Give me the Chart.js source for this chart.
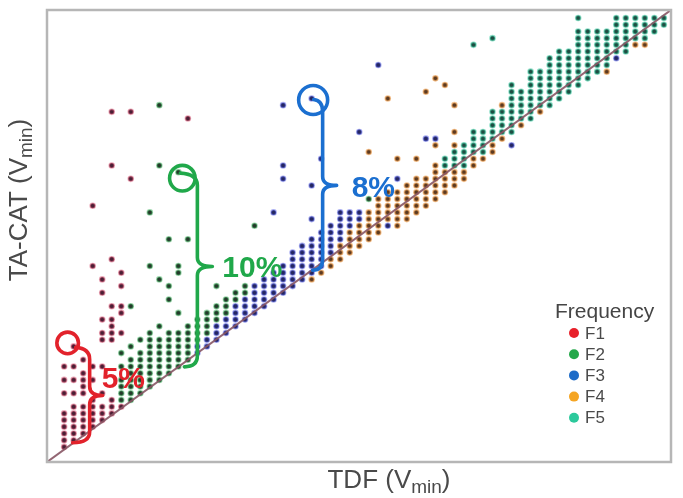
<!DOCTYPE html>
<html><head><meta charset="utf-8">
<script src="https://cdn.jsdelivr.net/npm/chart.js@4.4.1/dist/chart.umd.min.js"></script>
<style>html,body{margin:0;padding:0;background:#fff;}#wrap{width:683px;height:498px;position:relative;}</style>
</head><body><div id="wrap"><canvas id="c" width="683" height="498"></canvas></div>
<script>
// Axis ranges (voltage steps) – no tick labels are shown in the original
const X_MIN = 0.2, X_MAX = 65.75, Y_MIN = -0.25, Y_MAX = 67.2;

// Series data: [TDF step, [TA-CAT steps...]]
const F1_COLS = [
  [2, [2,3,4,5,6,7,10,12,14]],
  [3, [3,4,5,6,7,8,10,12,14,17]],
  [4, [4,5,6,7,8,10,11,12,13,15]],
  [5, [5,6,7,8,9,12,14,29,38]],
  [6, [6,7,8,10,14,18,19,21,25,27]],
  [7, [7,8,9,18,19,20,21,23,30,44,52]],
  [8, [8,19,22,23,26,28]],
  [9, [42,52]],
  [15, [51]]
];
const F2_COLS = [
  [8, [9,10,11,12,14,16]],
  [9, [9,10,11,12,13,14,15,17,23]],
  [10, [10,11,12,13,14,15,16,18]],
  [11, [11,12,13,14,15,16,17,18,19,29,37]],
  [12, [12,13,14,15,16,17,18,20,27,44,53]],
  [13, [13,14,15,16,17,18,19,24,26,33]],
  [14, [14,15,16,17,18,19,22,28,29,43]],
  [15, [15,16,17,18,19,20,33]],
  [16, [18,19,20,21]],
  [17, [19,20,21,22]],
  [18, [21,22,23,26]],
  [19, [22,23,24]],
  [20, [24,25]],
  [21, [25,26]],
  [22, [35]],
  [34, [39]]
];
const F3_COLS = [
  [16, [16,17]],
  [17, [17,18]],
  [18, [18,19,20]],
  [19, [19,20,21]],
  [20, [20,21,22,23]],
  [21, [21,22,23,24]],
  [22, [22,23,24,25,26]],
  [23, [23,24,25,26,27]],
  [24, [24,25,26,27,28,37]],
  [25, [25,26,27,28,29,42,44,53]],
  [26, [26,27,28,29,30,31]],
  [27, [27,28,29,30,31,32]],
  [28, [28,29,30,31,32,33,36,41,54]],
  [29, [29,30,31,32,33,34,45]],
  [30, [31,32,33,34,35]],
  [31, [33,34,35,36,37]],
  [32, [35,36,37]],
  [33, [36,37,49]],
  [35, [59]],
  [36, [35]],
  [37, [42]],
  [40, [48]],
  [41, [48]],
  [49, [47]],
  [60, [60]]
];
const F4_COLS = [
  [28, [27]],
  [29, [28]],
  [30, [29,30]],
  [31, [30,31,32]],
  [32, [31,32,33,34]],
  [33, [32,33,34,35]],
  [34, [33,34,35,36,37,46]],
  [35, [34,35,36,37,38,39]],
  [36, [36,37,38,39,40,54]],
  [37, [35,36,37,38,39,40,45]],
  [38, [36,37,38,39,40,41]],
  [39, [37,38,39,40,41,42,45]],
  [40, [38,39,40,41,42,55]],
  [41, [39,40,41,42,43,44,47,57]],
  [42, [40,41,42,43,56]],
  [43, [41,42,43,47,49,53]],
  [44, [42,43]],
  [45, [44,45]],
  [46, [45]],
  [47, [46,47]],
  [48, [48,53]],
  [50, [50]],
  [52, [52]],
  [59, [58]],
  [62, [62]],
  [63, [62]]
];
const F5_COLS = [
  [42, [44,45]],
  [43, [44,45,46]],
  [44, [44,45,46,47]],
  [45, [46,47,48,49,62]],
  [46, [46,47,48,49]],
  [47, [48,49,50,51,52,63]],
  [48, [49,50,51,52]],
  [49, [49,50,51,52,53,54,55,56]],
  [50, [51,52,53,54,55]],
  [51, [51,52,53,54,55,56,57,58]],
  [52, [53,54,55,56,57,58]],
  [53, [53,54,55,56,57,58,59,60]],
  [54, [54,55,56,57,58,59,60,61]],
  [55, [55,56,57,58,59,60,61]],
  [56, [56,57,58,59,60,61,62,63,64,66]],
  [57, [57,58,59,60,61,62,63,64]],
  [58, [58,59,60,61,62,63,64]],
  [59, [59,60,61,62,63,64]],
  [60, [61,62,63,64,65,66]],
  [61, [61,62,63,64,65,66]],
  [62, [63,64,65,66]],
  [63, [63,64,65,66]],
  [64, [64,65,66]],
  [65, [65,66]]
];

const SERIES_NAMES = ['F1','F2','F3','F4','F5'];
const SERIES_COLS = [F1_COLS, F2_COLS, F3_COLS, F4_COLS, F5_COLS];
const LEGEND_COLORS = ['#e8202a','#24a84a','#1e6cc8','#f5a524','#2cc99c'];
const CORE_COLORS = ['#4a1f35','#25392b','#252760','#5b3a22','#1f4d42'];
const HALO_COLORS = ['rgba(220,90,120,0.5)','rgba(70,180,100,0.5)','rgba(90,100,230,0.5)','rgba(240,160,80,0.6)','rgba(60,200,160,0.55)'];

// Annotated examples: target point (TDF step, TA-CAT step) and label
const NOTE_LABELS = ['5%','10%','8%'];
const NOTE_TARGETS = [[3,17],[14,43],[28,54]];
const NOTE_COLORS = ['#e2222b','#20a84a','#1b6fd0'];

const FONT = '"Liberation Sans", Arial, Helvetica, sans-serif';

const toPoints = cols => cols.flatMap(([x, ys]) => ys.map(y => ({x, y})));

const datasets = SERIES_COLS.map((cols, i) => ({
  type: 'scatter',
  label: SERIES_NAMES[i],
  data: toPoints(cols),
  backgroundColor: CORE_COLORS[i],
  borderColor: HALO_COLORS[i],
  borderWidth: 1.6,
  pointRadius: 2.5,
  pointHoverRadius: 2.5,
  order: 1
}));
datasets.push({
  type: 'line',
  label: 'parity',
  data: [{x: X_MIN, y: Y_MIN}, {x: X_MAX, y: Y_MAX}],
  borderColor: 'rgba(135,85,100,0.9)',
  borderWidth: 2,
  pointRadius: 0,
  fill: false,
  order: 0
});

const deco = {
  id: 'deco',
  afterDraw(chart) {
    const {ctx, chartArea: a, scales: {x: sx, y: sy}} = chart;
    ctx.save();
    // frame
    ctx.strokeStyle = '#b6b6b6';
    ctx.lineWidth = 2.5;
    ctx.strokeRect(a.left, a.top, a.right - a.left, a.bottom - a.top);

    // annotations
    const style = [
      {cdx:-6, cdy:-3.5, r:10.8, xv:16, nib:13, endDx:-1, lx:-1, ly:-8, mid:0},
      {cdx:4, cdy:6, r:12.8, xv:19, nib:15, endDx:6, lx:10, ly:10, mid:-4},
      {cdx:1.5, cdy:1.5, r:14.5, xv:11, nib:14, endDx:1, lx:15, ly:12, mid:0}
    ];
    NOTE_TARGETS.forEach(([tx, ty], k) => {
      const s = style[k];
      const px = sx.getPixelForValue(tx), py = sy.getPixelForValue(ty);
      const dyv = Y_MIN + (tx - X_MIN) * (Y_MAX - Y_MIN) / (X_MAX - X_MIN);
      const ex = px + s.endDx, ey = sy.getPixelForValue(dyv);
      const cx = px + s.cdx, cy = py + s.cdy;
      ctx.strokeStyle = NOTE_COLORS[k];
      ctx.fillStyle = NOTE_COLORS[k];
      ctx.lineWidth = 3.6;
      ctx.lineCap = 'round';
      ctx.lineJoin = 'round';
      ctx.beginPath();
      ctx.arc(cx, cy, s.r, 0, Math.PI * 2);
      ctx.stroke();
      const xv = px + s.xv;
      const top = py + 2;
      const mid = (top + ey) / 2 + s.mid;
      ctx.beginPath();
      ctx.moveTo(px + 2, py + 1);
      ctx.quadraticCurveTo(xv, py + 2, xv, top + 11);
      ctx.lineTo(xv, mid - 9);
      ctx.quadraticCurveTo(xv, mid, xv + s.nib, mid);
      ctx.moveTo(xv + s.nib, mid);
      ctx.quadraticCurveTo(xv, mid, xv, mid + 9);
      ctx.lineTo(xv, ey - 11);
      ctx.quadraticCurveTo(xv, ey, ex, ey);
      ctx.stroke();
      ctx.font = `bold 30px ${FONT}`;
      ctx.textBaseline = 'alphabetic';
      ctx.textAlign = 'left';
      ctx.fillText(NOTE_LABELS[k], xv + s.nib + s.lx, mid + s.ly);
    });

    // axis titles
    ctx.fillStyle = '#4a4a4a';
    ctx.textBaseline = 'alphabetic';
    const rich = (parts, x, y) => {
      let tot = 0;
      parts.forEach(p => { ctx.font = `${p[1]}px ${FONT}`; p.w = ctx.measureText(p[0]).width; tot += p.w; });
      let cx = x - tot / 2;
      parts.forEach(p => { ctx.font = `${p[1]}px ${FONT}`; ctx.textAlign = 'left'; ctx.fillText(p[0], cx, y + p[2]); cx += p.w; });
    };
    rich([['TDF (V',26,0],['min',19,5],[')',26,0]], 389, 488);
    ctx.save();
    ctx.translate(27, 200);
    ctx.rotate(-Math.PI / 2);
    rich([['TA-CAT (V',26,0],['min',19,5],[')',26,0]], 0, 0);
    ctx.restore();

    // legend
    ctx.fillStyle = '#454545';
    ctx.font = `21px ${FONT}`;
    ctx.textAlign = 'left';
    ctx.fillText('Frequency', 555, 318);
    SERIES_NAMES.forEach((n, i) => {
      const y = 333 + i * 21.2;
      ctx.beginPath();
      ctx.fillStyle = LEGEND_COLORS[i];
      ctx.arc(574, y, 5, 0, Math.PI * 2);
      ctx.fill();
      ctx.fillStyle = '#4a4a4a';
      ctx.font = `17px ${FONT}`;
      ctx.textBaseline = 'middle';
      ctx.fillText(n, 585, y + 1);
      ctx.textBaseline = 'alphabetic';
    });
    ctx.restore();
  }
};

new Chart(document.getElementById('c'), {
  data: {datasets},
  options: {
    responsive: false,
    devicePixelRatio: 1,
    animation: false,
    layout: {padding: {left: 47, top: 10, right: 12, bottom: 36}},
    plugins: {legend: {display: false}, tooltip: {enabled: false}},
    scales: {
      x: {type: 'linear', min: X_MIN, max: X_MAX, display: false},
      y: {type: 'linear', min: Y_MIN, max: Y_MAX, display: false}
    }
  },
  plugins: [deco]
});
</script></body></html>
